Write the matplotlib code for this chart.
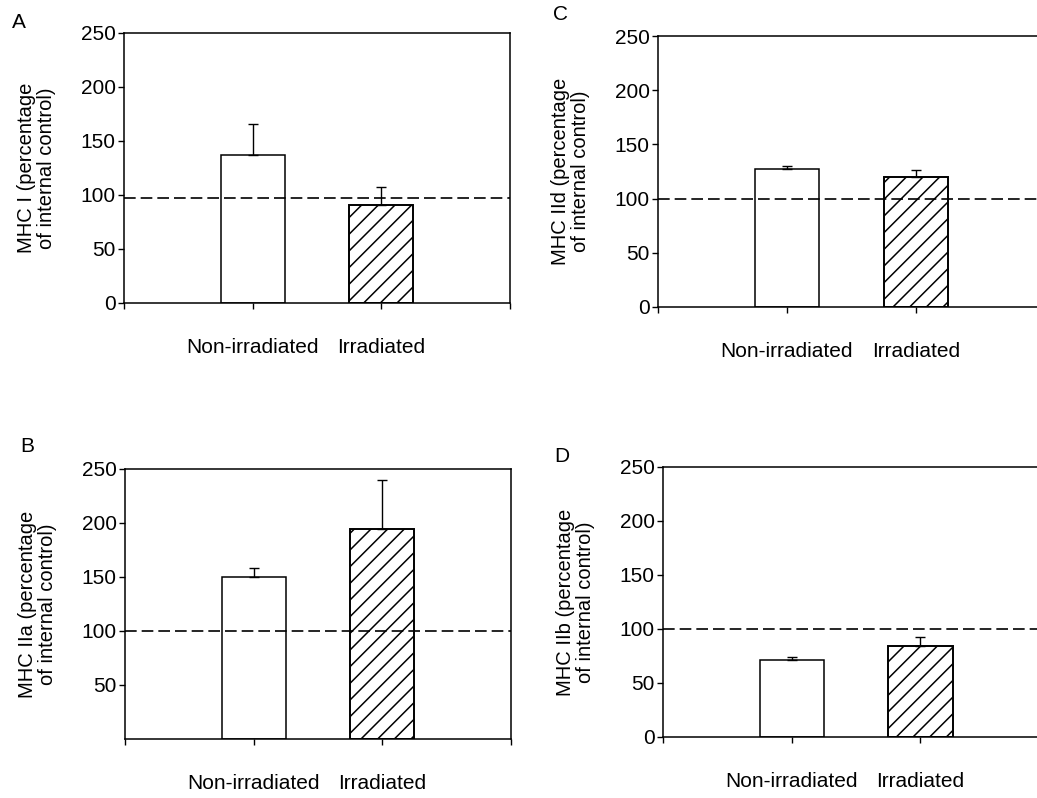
import numpy as np
import matplotlib
matplotlib.use("Agg")
import matplotlib.pyplot as plt

plt.rcParams["font.family"] = ["Liberation Sans", "DejaVu Sans"]
plt.rcParams["font.size"] = 15
plt.rcParams["hatch.linewidth"] = 1.1

groups = ["Non-irradiated", "Irradiated"]
panel_letters = ["A", "B", "C", "D"]
isoforms = ["MHC I", "MHC IIa", "MHC IId", "MHC IIb"]

mhc_i_mean = [137, 91]
mhc_i_sem = [29, 16]
mhc_iia_mean = [150, 194]
mhc_iia_sem = [8, 46]
mhc_iid_mean = [127, 120]
mhc_iid_sem = [3, 6]
mhc_iib_mean = [71, 84]
mhc_iib_sem = [3, 8.5]

# internal control reference level drawn on each panel
control_level = [97, 100, 100, 100]

W, H = 1037, 798
# axes boxes in pixels: left, top, width, height
boxes = [
    (124, 33, 386, 270),
    (125, 469, 386, 270),
    (658, 36, 387, 271),
    (663, 467, 386, 270),
]
letter_pos = [(19, 23), (27, 446), (560, 14), (562, 456)]
means = [mhc_i_mean, mhc_iia_mean, mhc_iid_mean, mhc_iib_mean]
sems = [mhc_i_sem, mhc_iia_sem, mhc_iid_sem, mhc_iib_sem]


def draw_panel(fig, box, mean, sem, ylab, ref, zero_label=True):
    left, top, w, h = box
    ax = fig.add_axes([left / W, 1 - (top + h) / H, w / W, h / H])
    x = np.arange(1, len(mean) + 1)
    ax.bar(x[0], mean[0], width=0.5, color="white", edgecolor="black", linewidth=1.1, zorder=2)
    ax.bar(x[1], mean[1], width=0.5, color="white", edgecolor="black", linewidth=1.4,
           hatch="//", zorder=2)
    ax.errorbar(x, mean, yerr=[np.zeros(len(sem)), sem], fmt="none", ecolor="black",
                elinewidth=1.0, capsize=3.5, capthick=1.0, zorder=3)
    ax.axhline(ref, color="black", linewidth=1.2, dashes=(7, 3), zorder=4)

    ax.set_xlim(0, 3)
    ax.set_ylim(0, 250)
    ax.set_xticks([0, 1, 2, 3])
    ax.set_xticklabels([""] + groups + [""])
    yt = np.arange(0, 251, 50) if zero_label else np.arange(50, 251, 50)
    ax.set_yticks(yt)
    ax.tick_params(axis="x", direction="out", length=4, width=1, pad=21)
    ax.tick_params(axis="y", direction="out", length=4, width=1, pad=2)
    for s in ax.spines.values():
        s.set_linewidth(1.1)

    ax.set_ylabel(ylab + " (percentage\nof internal control)", fontsize=14.5, linespacing=1.05)
    ax.yaxis.set_label_coords(-0.177, 0.5)
    return ax


def main():
    fig = plt.figure(figsize=(W / 100, H / 100), dpi=100)
    for i in range(4):
        draw_panel(fig, boxes[i], means[i], sems[i], isoforms[i], control_level[i],
                   zero_label=(i != 1))
        lx, ly = letter_pos[i]
        fig.text(lx / W, 1 - ly / H, panel_letters[i], ha="center", va="center", fontsize=15)
    fig.savefig("out.png", dpi=100)


if __name__ == "__main__":
    main()
